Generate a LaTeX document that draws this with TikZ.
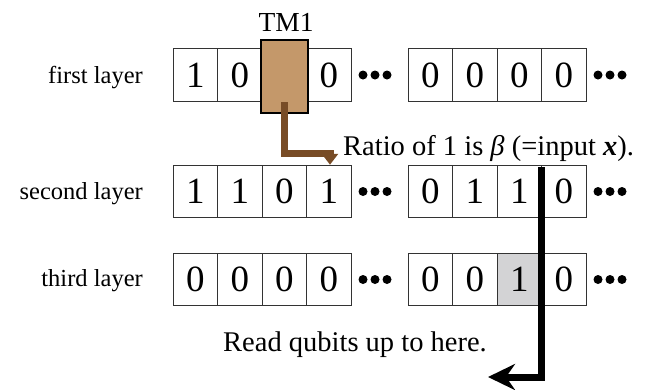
\documentclass[tikz,border=0pt]{standalone}
\usepackage{fontspec}
\setmainfont{Liberation Serif}
\usetikzlibrary{arrows.meta}
\definecolor{tmfill}{RGB}{196,152,106}
\definecolor{tmbrown}{RGB}{120,76,38}
\definecolor{hlgray}{RGB}{211,211,213}
\tikzset{
  cell/.style={draw=black!80, line width=1pt, minimum width=44.5pt, minimum height=52.5pt, inner sep=0pt,
    font=\fontsize{37}{40}\selectfont},
  lab/.style={anchor=base east, inner sep=0pt, font=\fontsize{24.5}{28}\selectfont},
  txt/.style={inner sep=0pt, font=\fontsize{28.5}{32}\selectfont},
  dot/.style={fill=black, circle, inner sep=0pt, minimum size=9pt},
}
\begin{document}
\begin{tikzpicture}[x=1pt,y=1pt]
\useasboundingbox (0,0) rectangle (651,-389);
% labels
\node[lab] (l1) at (143,-83) {first layer};
\node[lab] (l2) at (143,-199) {second layer};
\node[lab] (l3) at (143,-286) {third layer};
% rows
\foreach \r/\y/\vals in {1/-75/{1,0,,0,0,0,0,0},2/-191.5/{1,1,0,1,0,1,1,0},3/-279.5/{0,0,0,0,0,0,1,0}}{
  \foreach \v [count=\i] in \vals {
    \pgfmathsetmacro\xx{\i<5 ? 173+22.25+(\i-1)*44.5 : 408+22.25+(\i-5)*44.5}
    \node[cell] (c\r-\i) at (\xx,\y) {\v};
  }
  \foreach \dx [count=\k] in {363,375,387}{\node[dot] (da\r-\k) at (\dx,\y) {};}
  \foreach \dx [count=\k] in {598,610,622}{\node[dot] (db\r-\k) at (\dx,\y) {};}
}
% highlighted cell
\node[cell, fill=hlgray] (hl) at (c3-7) {1};
% TM box
\node[draw=black, line width=1.6pt, fill=tmfill, minimum width=47pt, minimum height=73pt, inner sep=0pt] (tm) at (284.5,-76.5) {};
\node[inner sep=0pt, font=\fontsize{27.5}{30}\selectfont] (tmlab) at (286,-22) {TM1};
% brown arrow
\coordinate (bs) at (284.5,-102);
\coordinate (bc) at (330,-153);
\draw[tmbrown, line width=7pt, -{Triangle[length=11pt,width=16pt]}] (bs) |- (bc) -- (c2-4.north -| bc);
\node[txt, anchor=base west] (ratio) at (343,-155) {Ratio of 1 is {\itshape β} (=input \textbf{\textit{x}}).};
% black arrow
\coordinate (ks) at (541,-167);
\coordinate (kc) at (541,-377);
\coordinate (ke) at (488,-377);
\draw[black, line width=7pt, -{Stealth[length=27pt,width=26pt,inset=9pt]}] (ks) -- (kc) -- (ke);
\node[txt, anchor=base] (read) at (355,-351) {Read qubits up to here.};
\end{tikzpicture}
\end{document}
